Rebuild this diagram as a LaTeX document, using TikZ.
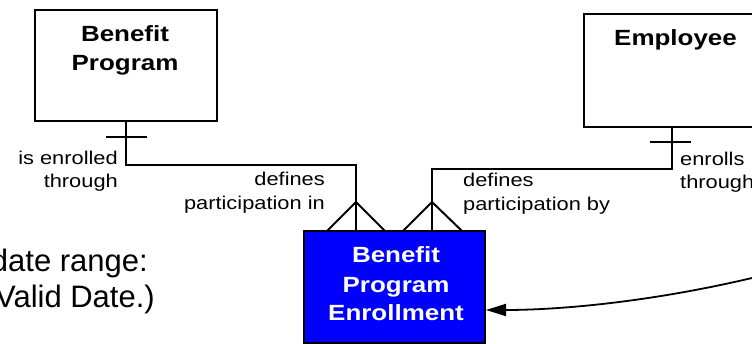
\documentclass[tikz,border=0pt]{standalone}
\usepackage{fontspec}
\setmainfont{Liberation Sans}
\newfontfamily\diag[FakeStretch=1.18]{Liberation Sans}
\usetikzlibrary{arrows.meta}
\begin{document}
\begin{tikzpicture}[x=1pt,y=-1pt,
  entity/.style={draw=black, line width=2pt, fill=white, inner sep=0pt},
  ename/.style={font=\diag\bfseries\fontsize{22}{29}\selectfont, inner sep=0pt, align=center, anchor=base},
  lbl/.style={font=\diag\fontsize{18.5}{23.5}\selectfont, inner sep=0pt},
  note/.style={font=\fontsize{31}{36}\selectfont, inner sep=0pt, anchor=base east},
  conn/.style={line width=2pt, line join=miter, line cap=rect}]
\useasboundingbox (0,0) rectangle (752,344);
\clip (0,0) rectangle (752,344);

% entities
\node[entity, minimum width=182pt, minimum height=111pt] (bp) at (126,65.5) {};
\node[ename] (bpT) at (125,71) {Benefit\\Program};
\node[entity, minimum width=176pt, minimum height=113pt] (emp) at (672,70.5) {};
\node[ename] (empT) at (675.5,46) {Employee};
\node[entity, fill={rgb,255:red,0;green,0;blue,255}, minimum width=181pt, minimum height=112pt] (bpe) at (394.5,287) {};
\node[ename, text=white] (bpeT) at (396,321) {Benefit\\Program\\Enrollment};

% left note
\node[note] (n1) at (148,272) {date range:};
\node[note] (n2) at (155,308) {Valid Date.)};

% relationship: Benefit Program -> Enrollment
\coordinate (j1) at (356,165);
\draw[conn] (bp.south) |- (j1) -- (j1 |- bpe.north);
\draw[conn] (107,137) -- (146,137);
\coordinate (a1) at (356,202);
\draw[conn, line cap=butt] (327,231) -- (a1) -- (385,231);
\node[lbl, align=right, anchor=base east, font=\diag\fontsize{18.5}{23}\selectfont] (l1) at (118,188) {is enrolled\\through};
\node[lbl, align=right, anchor=base east, font=\diag\fontsize{18.5}{24}\selectfont] (l2) at (325,210) {defines\\participation in};

% relationship: Employee -> Enrollment
\coordinate (j2) at (432,169);
\draw[conn] (emp.south) |- (j2) -- (j2 |- bpe.north);
\draw[conn] (651,142) -- (690,142);
\coordinate (a2) at (432,202);
\draw[conn, line cap=butt] (403,231) -- (a2) -- (462,231);
\node[lbl, align=left, anchor=base west, font=\diag\fontsize{18.5}{24}\selectfont] (l3) at (463,210.5) {defines\\participation by};
\node[lbl, align=left, anchor=base west, font=\diag\fontsize{18.5}{23}\selectfont] (l4) at (680,189) {enrolls\\through};

% curved arrow
\coordinate (as) at (752,278);
\coordinate (ae) at (0,310);
\draw[line width=1.8pt, -{Triangle[length=20pt,width=12pt]}] (as) .. controls (650,302) and (560,310) .. (bpe.east |- ae);
\end{tikzpicture}
\end{document}
